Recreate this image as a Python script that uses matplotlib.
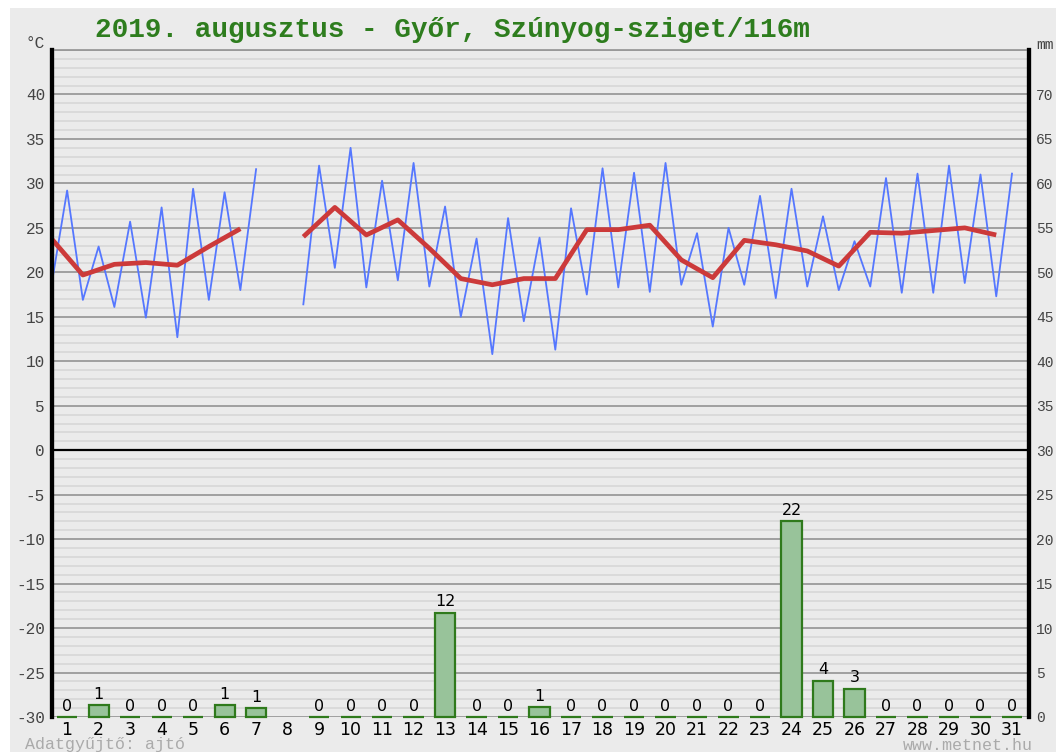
import numpy as np
import matplotlib
matplotlib.use("Agg")
import matplotlib.pyplot as plt
from matplotlib.patches import Rectangle

nan = np.nan
days = list(range(1, 32))
tmin = [18.5, 16.9, 16.1, 14.9, 12.7, 16.9, 18.0, nan, 16.4, 20.5, 18.3, 19.1, 18.4, 15.0, 10.8, 14.5,
        11.3, 17.5, 18.3, 17.8, 18.6, 13.9, 18.6, 17.1, 18.4, 18.0, 18.4, 17.7, 17.7, 18.8, 17.3]
tmax = [29.2, 22.9, 25.7, 27.3, 29.4, 29.0, 31.6, nan, 32.0, 34.0, 30.3, 32.3, 27.4, 23.8, 26.1, 23.9,
        27.2, 31.7, 31.2, 32.3, 24.4, 25.0, 28.6, 29.4, 26.3, 23.5, 30.6, 31.1, 32.0, 31.0, 31.1]
tmean = [23.8, 19.7, 20.9, 21.1, 20.8, 22.9, 24.9, nan, 24.0, 27.3, 24.2, 25.9, 22.7, 19.3, 18.6, 19.3,
         19.3, 24.8, 24.8, 25.3, 21.4, 19.4, 23.6, 23.1, 22.4, 20.7, 24.5, 24.4, 24.7, 25.0, 24.2]
precip = [0, 1.3, 0, 0, 0, 1.3, 1.0, nan, 0, 0, 0, 0, 11.7, 0, 0, 1.1, 0, 0, 0, 0, 0, 0, 0,
          22.0, 4.1, 3.2, 0, 0, 0, 0, 0]
left_ticks = list(range(-30, 45, 5))
right_ticks = list(range(0, 75, 5))
title = "2019. augusztus - Győr, Szúnyog-sziget/116m"

W, H = 1056, 752
fig = plt.figure(figsize=(W / 100, H / 100), dpi=100)
fig.patch.set_facecolor("white")
fig.patches.append(Rectangle((10 / W, 0), 1 - 10 / W, 1 - 8 / H, transform=fig.transFigure,
                             facecolor="#ebebeb", edgecolor="none", zorder=-10))

ax = fig.add_axes([52 / W, 1 - 717 / H, (1029 - 52) / W, (717 - 50) / H])
ax.set_facecolor("#ebebeb")
ax.set_xlim(0.52, 31.54)
ax.set_ylim(-30, 45)

# grid
for v in range(-30, 46):
    if v % 5 == 0:
        ax.axhline(v, color="#9a9a9a", lw=1.3, zorder=1)
    else:
        ax.axhline(v, color="#d9d9d9", lw=1.3, zorder=0.5)
ax.axhline(0, color="black", lw=1.6, zorder=2)

# temperature lines
bx, by = [], []
for d, lo, hi in zip(days, tmin, tmax):
    if np.isnan(lo):
        bx.append(d); by.append(nan)
        continue
    bx += [d - 0.5, d]
    by += [lo, hi]
ax.plot(bx, by, color="#5577ff", lw=1.3, zorder=3)
ax.plot([d - 0.5 for d in days], tmean, color="#cc3a3a", lw=3.4, zorder=4, solid_capstyle="butt")

ax.set_yticks(left_ticks)
ax.set_yticklabels([str(v) for v in left_ticks], family="Liberation Mono", fontsize=11.5, color="#444444")
ax.tick_params(axis="y", length=0, pad=5)
ax.set_xticks(days)
ax.set_xticklabels([str(d) for d in days], fontsize=12.5, color="black")
ax.tick_params(axis="x", length=0, pad=3)

for s in ["left", "right"]:
    ax.spines[s].set_linewidth(3)
    ax.spines[s].set_color("black")
ax.spines["top"].set_color("#9a9a9a")
ax.spines["top"].set_linewidth(1.3)
ax.spines["bottom"].set_visible(False)

# precipitation
ax2 = ax.twinx()
ax2.set_ylim(0, 75)
pv = np.array(precip, dtype=float)
mask = ~np.isnan(pv)
bars = ax2.bar(np.array(days)[mask], pv[mask], width=0.64, facecolor="#98c39a", edgecolor="#2f7a1c",
               linewidth=1.6, zorder=5)
for b in bars:
    b.set_clip_on(False)
for d, p in zip(days, precip):
    if np.isnan(p):
        continue
    ax2.annotate(str(int(round(p))), (d, p), xytext=(0, 2.5), textcoords="offset points",
                 ha="center", va="bottom", fontsize=11.5, color="black", family="DejaVu Sans")
ax2.set_yticks(right_ticks)
ax2.set_yticklabels([str(v) for v in right_ticks], family="Liberation Mono", fontsize=10.5, color="#444444")
ax2.tick_params(axis="y", length=0, pad=5)
for s in ["left", "right"]:
    ax2.spines[s].set_linewidth(3)
    ax2.spines[s].set_color("black")
ax2.spines["top"].set_visible(False)
ax2.spines["bottom"].set_visible(False)

# texts
fig.text(95 / W, 1 - 30 / H, title, family="Liberation Mono", fontweight="bold", fontsize=20,
         color="#2e7d1e", ha="left", va="center")
fig.text(25 / W, 1 - 44 / H, "°C", family="Liberation Mono", fontsize=11.5, color="#444444",
         ha="left", va="center")
fig.text(1036 / W, 1 - 45 / H, "mm", family="Liberation Mono", fontsize=10.5, color="#444444",
         ha="left", va="center")
fig.text(25 / W, 1 - 745 / H, "Adatgyűjtő: ajtó", family="Liberation Mono", fontsize=12,
         color="#aaaaaa", ha="left", va="center")
fig.text(903 / W, 1 - 745 / H, "www.metnet.hu", family="Liberation Mono", fontsize=12,
         color="#aaaaaa", ha="left", va="center")

fig.savefig("out.png", dpi=100)
